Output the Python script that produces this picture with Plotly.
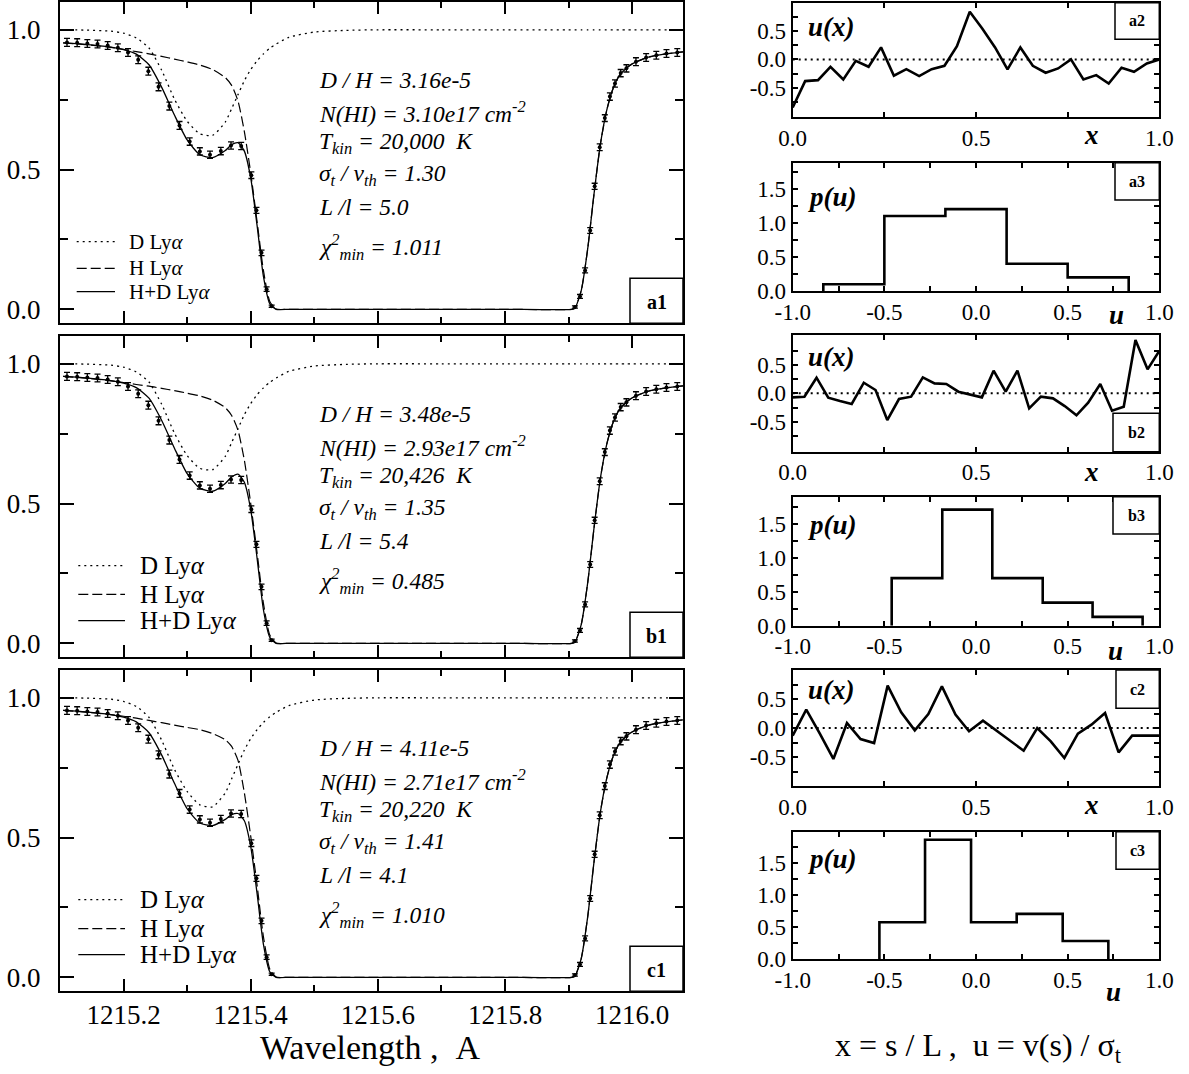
import plotly.graph_objects as go

W, H = 1189, 1074
SERIF = "'Liberation Serif', 'Times New Roman', Times, serif"

# ---------------- observed Ly-alpha profile (same spectrum in every fit) ----------------
wl_obs = [1215.111, 1215.127, 1215.143, 1215.159, 1215.175, 1215.191, 1215.207,
          1215.223, 1215.239, 1215.255, 1215.272, 1215.288, 1215.304, 1215.320,
          1215.336, 1215.353, 1215.369, 1215.385, 1215.401, 1215.409, 1215.417,
          1215.425, 1215.433,
          1215.910, 1215.918, 1215.926, 1215.934, 1215.941, 1215.949, 1215.957,
          1215.965, 1215.973, 1215.982, 1215.991, 1216.006, 1216.022, 1216.038,
          1216.054, 1216.071]
flux_obs = [0.955, 0.954, 0.951, 0.949, 0.944, 0.936, 0.919, 0.893, 0.852, 0.796,
            0.727, 0.658, 0.600, 0.565, 0.553, 0.566, 0.586, 0.584, 0.480, 0.354,
            0.202, 0.072, 0.011,
            0.008, 0.046, 0.139, 0.282, 0.440, 0.580, 0.684, 0.761, 0.808, 0.845,
            0.862, 0.886, 0.901, 0.909, 0.915, 0.919]
err_obs = [0.014, 0.014, 0.014, 0.014, 0.014, 0.014, 0.014, 0.014, 0.014, 0.014,
           0.014, 0.014, 0.013, 0.013, 0.013, 0.013, 0.013, 0.013, 0.012, 0.011,
           0.010, 0.008, 0.004,
           0.004, 0.007, 0.009, 0.010, 0.011, 0.012, 0.012, 0.013, 0.013, 0.013,
           0.013, 0.014, 0.014, 0.014, 0.014, 0.014]

# ---------------- model profiles ----------------
wl_model = [1215.105, 1215.14, 1215.18, 1215.20, 1215.22, 1215.24, 1215.26, 1215.28,
            1215.30, 1215.32, 1215.34, 1215.36, 1215.37, 1215.38, 1215.39, 1215.40,
            1215.41, 1215.42, 1215.43, 1215.44, 1215.46, 1215.50, 1215.55, 1215.60,
            1215.70, 1215.80, 1215.905, 1215.91, 1215.92, 1215.93, 1215.94, 1215.95,
            1215.96, 1215.97, 1215.98, 1215.99, 1216.00, 1216.02, 1216.04, 1216.06,
            1216.08]

d_a1 = [1.000, 0.999, 0.995, 0.988, 0.971, 0.935, 0.855, 0.752, 0.673, 0.628, 0.622,
        0.670, 0.718, 0.768, 0.818, 0.858, 0.889, 0.914, 0.934, 0.949, 0.973, 0.992,
        0.998, 1.000, 1.000, 1.000, 1.000, 1.000, 1.000, 1.000, 1.000, 1.000, 1.000,
        1.000, 1.000, 1.000, 1.000, 1.000, 1.000, 1.000, 1.000]
h_a1 = [0.953, 0.947, 0.937, 0.930, 0.922, 0.914, 0.905, 0.895, 0.885, 0.874, 0.858,
        0.829, 0.801, 0.745, 0.636, 0.488, 0.314, 0.139, 0.028, 0.001, 0.0, 0.0, 0.0,
        0.0, 0.0, 0.0, 0.0, 0.004, 0.068, 0.215, 0.412, 0.590, 0.712, 0.790, 0.837,
        0.861, 0.878, 0.898, 0.909, 0.916, 0.921]
hd_a1 = [0.953, 0.948, 0.938, 0.929, 0.913, 0.875, 0.794, 0.695, 0.606, 0.553, 0.543,
         0.568, 0.589, 0.596, 0.566, 0.470, 0.300, 0.118, 0.020, 0.0, 0.0, 0.0, 0.0,
         0.0, 0.0, 0.0, 0.0, 0.004, 0.068, 0.215, 0.412, 0.590, 0.712, 0.790, 0.837,
         0.861, 0.878, 0.898, 0.909, 0.916, 0.921]

d_b1 = [1.000, 0.999, 0.995, 0.988, 0.971, 0.935, 0.855, 0.752, 0.672, 0.626, 0.621,
        0.669, 0.718, 0.768, 0.818, 0.858, 0.889, 0.914, 0.934, 0.949, 0.973, 0.992,
        0.998, 1.000, 1.000, 1.000, 1.000, 1.000, 1.000, 1.000, 1.000, 1.000, 1.000,
        1.000, 1.000, 1.000, 1.000, 1.000, 1.000, 1.000, 1.000]
h_b1 = [0.955, 0.949, 0.939, 0.933, 0.926, 0.920, 0.912, 0.904, 0.895, 0.885, 0.870,
        0.843, 0.815, 0.762, 0.655, 0.500, 0.325, 0.143, 0.030, 0.001, 0.0, 0.0, 0.0,
        0.0, 0.0, 0.0, 0.0, 0.004, 0.068, 0.215, 0.412, 0.590, 0.712, 0.790, 0.837,
        0.861, 0.878, 0.898, 0.909, 0.916, 0.921]
hd_b1 = [0.955, 0.950, 0.940, 0.931, 0.915, 0.877, 0.797, 0.698, 0.607, 0.555, 0.544,
         0.572, 0.595, 0.605, 0.576, 0.478, 0.305, 0.120, 0.021, 0.0, 0.0, 0.0, 0.0,
         0.0, 0.0, 0.0, 0.0, 0.004, 0.068, 0.215, 0.412, 0.590, 0.712, 0.790, 0.837,
         0.861, 0.878, 0.898, 0.909, 0.916, 0.921]

d_c1 = [1.000, 0.999, 0.995, 0.987, 0.969, 0.930, 0.848, 0.744, 0.665, 0.617, 0.610,
        0.660, 0.710, 0.762, 0.813, 0.854, 0.886, 0.912, 0.932, 0.948, 0.972, 0.992,
        0.998, 1.000, 1.000, 1.000, 1.000, 1.000, 1.000, 1.000, 1.000, 1.000, 1.000,
        1.000, 1.000, 1.000, 1.000, 1.000, 1.000, 1.000, 1.000]
h_c1 = [0.955, 0.949, 0.940, 0.934, 0.927, 0.919, 0.911, 0.902, 0.894, 0.886, 0.872,
        0.850, 0.826, 0.776, 0.660, 0.505, 0.330, 0.145, 0.030, 0.001, 0.0, 0.0, 0.0,
        0.0, 0.0, 0.0, 0.0, 0.004, 0.068, 0.215, 0.412, 0.590, 0.712, 0.790, 0.837,
        0.861, 0.878, 0.898, 0.909, 0.916, 0.921]
hd_c1 = [0.955, 0.950, 0.940, 0.931, 0.914, 0.875, 0.795, 0.694, 0.603, 0.552, 0.543,
         0.565, 0.582, 0.586, 0.560, 0.468, 0.300, 0.118, 0.020, 0.0, 0.0, 0.0, 0.0,
         0.0, 0.0, 0.0, 0.0, 0.004, 0.068, 0.215, 0.412, 0.590, 0.712, 0.790, 0.837,
         0.861, 0.878, 0.898, 0.909, 0.916, 0.921]

params_a1 = ["D / H = 3.16e-5", "N(HI) = 3.10e17 cm<sup>-2</sup>",
             "T<sub>kin</sub> = 20,000\u00a0\u00a0K", "\u03c3<sub>t</sub> / v<sub>th</sub> = 1.30",
             "L /l = 5.0", "\u03c7<sup>2</sup><sub>min</sub> = 1.011"]
params_b1 = ["D / H = 3.48e-5", "N(HI) = 2.93e17 cm<sup>-2</sup>",
             "T<sub>kin</sub> = 20,426\u00a0\u00a0K", "\u03c3<sub>t</sub> / v<sub>th</sub> = 1.35",
             "L /l = 5.4", "\u03c7<sup>2</sup><sub>min</sub> = 0.485"]
params_c1 = ["D / H = 4.11e-5", "N(HI) = 2.71e17 cm<sup>-2</sup>",
             "T<sub>kin</sub> = 20,220\u00a0\u00a0K", "\u03c3<sub>t</sub> / v<sub>th</sub> = 1.41",
             "L /l = 4.1", "\u03c7<sup>2</sup><sub>min</sub> = 1.010"]

legend_names = ["D Ly<i>\u03b1</i>", "H Ly<i>\u03b1</i>", "H+D Ly<i>\u03b1</i>"]

# ---------------- velocity field realisations u(x) ----------------
x_a2 = [0.000, 0.034, 0.069, 0.103, 0.138, 0.172, 0.207, 0.241, 0.276, 0.310,
        0.345, 0.379, 0.414, 0.448, 0.483, 0.517, 0.552, 0.586, 0.621, 0.655,
        0.690, 0.724, 0.759, 0.793, 0.828, 0.862, 0.897, 0.931, 0.966, 1.000]
u_a2 = [-0.847, -0.382, -0.365, -0.129, -0.353, -0.024, -0.129, 0.212, -0.288, -0.171,
        -0.294, -0.171, -0.112, 0.235, 0.841, 0.547, 0.212, -0.176, 0.212, -0.112,
        -0.235, -0.159, 0.000, -0.353, -0.276, -0.424, -0.147, -0.218, -0.071, 0.000]

x_b2 = [0.000, 0.032, 0.065, 0.097, 0.129, 0.161, 0.194, 0.226, 0.258, 0.290,
        0.323, 0.355, 0.387, 0.419, 0.452, 0.484, 0.516, 0.548, 0.581, 0.613,
        0.645, 0.677, 0.710, 0.742, 0.774, 0.806, 0.839, 0.871, 0.903, 0.935,
        0.968, 1.000]
u_b2 = [-0.071, -0.059, 0.276, -0.076, -0.135, -0.188, 0.188, 0.059, -0.471, -0.100,
        -0.059, 0.282, 0.176, 0.165, 0.029, -0.018, -0.071, 0.400, 0.029, 0.400,
        -0.265, -0.059, -0.088, -0.224, -0.388, -0.165, 0.165, -0.306, -0.235, 0.941,
        0.424, 0.747]

x_c2 = [0.000, 0.037, 0.074, 0.111, 0.148, 0.185, 0.222, 0.259, 0.296, 0.333,
        0.370, 0.407, 0.444, 0.481, 0.519, 0.556, 0.593, 0.630, 0.667, 0.704,
        0.741, 0.778, 0.815, 0.852, 0.889, 0.926, 0.963, 1.000]
u_c2 = [-0.132, 0.316, -0.098, -0.534, 0.086, -0.190, -0.259, 0.730, 0.270, -0.040,
        0.241, 0.718, 0.230, -0.057, 0.126, -0.046, -0.230, -0.391, 0.000, -0.230,
        -0.517, -0.098, 0.057, 0.259, -0.420, -0.132, -0.132, -0.132]

# ---------------- velocity distributions p(u) ----------------
edges_a3 = [-0.833, -0.500, -0.167, 0.167, 0.500, 0.833]
p_a3 = [0.10, 1.10, 1.20, 0.40, 0.20]
edges_b3 = [-0.460, -0.184, 0.089, 0.364, 0.636, 0.909]
p_b3 = [0.70, 1.71, 0.70, 0.34, 0.13]
edges_c3 = [-0.527, -0.278, -0.027, 0.222, 0.473, 0.722]
p_c3 = [0.575, 1.855, 0.575, 0.705, 0.285]

# ---------------- layout geometry (pixels) ----------------
LEFT_X = (60, 683)
RIGHT_X = (792.7, 1159.3)
PX_PER_UNIT = 279.5


def fx(p):
    return p / W


def fy(p):
    return 1 - p / H


fig = go.Figure()
annotations = []
shapes = []
layout = {}

left_panels = [
    dict(tag="a1", idx="", y0=309.3, d=d_a1, h=h_a1, hd=hd_a1, params=params_a1,
         leg_size=21, leg_rows=[-67.6, -41.0, -17.6], leg_line=(76.7, 115.0), leg_text=127.0),
    dict(tag="b1", idx="2", y0=643.3, d=d_b1, h=h_b1, hd=hd_b1, params=params_b1,
         leg_size=25, leg_rows=[-77.6, -49.0, -22.6], leg_line=(78.3, 125.0), leg_text=138.0),
    dict(tag="c1", idx="3", y0=977.3, d=d_c1, h=h_c1, hd=hd_c1, params=params_c1,
         leg_size=25, leg_rows=[-77.6, -48.6, -22.6], leg_line=(78.3, 125.0), leg_text=138.0),
]

tickfont_left = dict(family=SERIF, size=27, color="black")
param_dy = [0.0, 31.7, 63.3, 95.0, 126.7, 166.7]
styles = [("2px,4px", 1.3), ("10px,4px", 1.2), ("solid", 1.3)]

for k, p in enumerate(left_panels):
    xa = "x" + p["idx"]
    ya = "y" + p["idx"]
    y0 = p["y0"]
    top_px = y0 - 1.1 * PX_PER_UNIT
    bot_px = y0 + 0.05 * PX_PER_UNIT
    for vals, (dash, lw) in zip([p["d"], p["h"], p["hd"]], styles):
        fig.add_trace(go.Scatter(x=wl_model, y=vals, mode="lines", xaxis=xa, yaxis=ya,
                                 line=dict(color="black", width=lw, dash=dash,
                                           shape="spline", smoothing=0.6),
                                 showlegend=False, hoverinfo="skip"))
    fig.add_trace(go.Scatter(x=wl_obs, y=flux_obs, mode="markers", xaxis=xa, yaxis=ya,
                             marker=dict(color="black", size=4),
                             error_y=dict(type="data", array=err_obs, color="black",
                                          thickness=1.3, width=3),
                             showlegend=False, hoverinfo="skip"))

    layout["xaxis" + p["idx"]] = dict(
        domain=[fx(LEFT_X[0]), fx(LEFT_X[1])], anchor=ya, range=[1215.1, 1216.08],
        tick0=1215.2, dtick=0.2, tickformat=".1f", ticks="inside", ticklen=12,
        tickwidth=1.5, tickcolor="black", showline=True, linecolor="black", linewidth=2,
        mirror="ticks", showgrid=False, zeroline=False, showticklabels=(k == 2),
        tickfont=tickfont_left, ticklabelstandoff=-2, automargin=False,
        minor=dict(dtick=0.1, ticklen=6, tickwidth=1.5, tickcolor="black", ticks="inside"))
    layout["yaxis" + p["idx"]] = dict(
        domain=[fy(bot_px), fy(top_px)], anchor=xa, range=[-0.05, 1.1],
        tick0=0, dtick=0.5, tickformat=".1f", ticks="inside", ticklen=14, tickwidth=1.5,
        tickcolor="black", showline=True, linecolor="black", linewidth=2, mirror="ticks",
        showgrid=False, zeroline=False, tickfont=tickfont_left, ticklabelstandoff=12,
        automargin=False,
        minor=dict(dtick=0.25, ticklen=8, tickwidth=1.5, tickcolor="black", ticks="inside"))

    # fit parameters
    py_text0 = y0 - 229.3
    for line, dy in zip(p["params"], param_dy):
        annotations.append(dict(x=fx(316.5), y=fy(py_text0 + dy), xref="paper", yref="paper",
                                text="<i>" + line + "</i>", showarrow=False,
                                xanchor="left", yanchor="middle",
                                font=dict(family=SERIF, size=23.5, color="black")))

    # line-style key
    for name, (dash, lw), dy in zip(legend_names, styles, p["leg_rows"]):
        shapes.append(dict(type="line", xref="paper", yref="paper",
                           x0=fx(p["leg_line"][0]), x1=fx(p["leg_line"][1]),
                           y0=fy(y0 + dy), y1=fy(y0 + dy),
                           line=dict(color="black", width=lw, dash=dash)))
        annotations.append(dict(x=fx(p["leg_text"]), y=fy(y0 + dy), xref="paper", yref="paper",
                                text=name, showarrow=False, xanchor="left", yanchor="middle",
                                font=dict(family=SERIF, size=p["leg_size"], color="black")))

    # panel tag box
    shapes.append(dict(type="rect", xref="paper", yref="paper",
                       x0=fx(630), x1=fx(LEFT_X[1]), y0=fy(bot_px), y1=fy(bot_px - 45),
                       line=dict(color="black", width=1.5), fillcolor="white", layer="above"))
    annotations.append(dict(x=fx(656.5), y=fy(bot_px - 21), xref="paper", yref="paper",
                            text="<b>" + p["tag"] + "</b>", showarrow=False,
                            xanchor="center", yanchor="middle",
                            font=dict(family=SERIF, size=20, color="black")))

# ---------------- right-hand panels ----------------
tickfont_right = dict(family=SERIF, size=23, color="black")

right_panels = [
    dict(kind="u", tag="a2", idx="4", top=2.7, bot=117.3, rng=[-1.02, 1.0], x=x_a2, y=u_a2,
         box="top", box_left=1115, box_h=36.6, lab_dy=24.0, ax_lab=(1091.7, 135.0)),
    dict(kind="p", tag="a3", idx="5", top=162.7, bot=291.0, rng=[0, 1.88], edges=edges_a3,
         p=p_a3, box="top", box_left=1115, box_h=37.3, lab_dy=34.0, ax_lab=(1116.7, 315.0)),
    dict(kind="u", tag="b2", idx="6", top=335.0, bot=451.7, rng=[-1.03, 1.03], x=x_b2, y=u_b2,
         box="bottom", box_left=1113, box_h=38.4, lab_dy=21.7, ax_lab=(1091.7, 471.7)),
    dict(kind="p", tag="b3", idx="7", top=496.7, bot=625.7, rng=[0, 1.9], edges=edges_b3,
         p=p_b3, box="top", box_left=1113, box_h=37.3, lab_dy=28.3, ax_lab=(1115.0, 651.0)),
    dict(kind="u", tag="c2", idx="8", top=670.0, bot=786.0, rng=[-1.0, 1.0], x=x_c2, y=u_c2,
         box="top", box_left=1116, box_h=38.3, lab_dy=20.0, ax_lab=(1091.7, 805.0)),
    dict(kind="p", tag="c3", idx="9", top=831.7, bot=959.3, rng=[0, 1.98], edges=edges_c3,
         p=p_c3, box="top", box_left=1116, box_h=37.6, lab_dy=27.6, ax_lab=(1113.0, 992.0)),
]

for r in right_panels:
    xa = "x" + r["idx"]
    ya = "y" + r["idx"]
    axis_common = dict(ticks="inside", ticklen=5, tickwidth=1.5, tickcolor="black",
                       showline=True, linecolor="black", linewidth=2, mirror="ticks",
                       showgrid=False, zeroline=False, tickfont=tickfont_right,
                       automargin=False)
    if r["kind"] == "u":
        fig.add_trace(go.Scatter(x=r["x"], y=r["y"], mode="lines", xaxis=xa, yaxis=ya,
                                 line=dict(color="black", width=2.6),
                                 showlegend=False, hoverinfo="skip"))
        shapes.append(dict(type="line", xref=xa + " domain", yref=ya, x0=0, x1=1, y0=0, y1=0,
                           line=dict(color="black", width=2, dash="2px,4px")))
        xticks = dict(range=[0, 1], tickvals=[0, 0.25, 0.5, 0.75, 1.0],
                      ticktext=["0.0", "", "0.5", "", "1.0"])
        yticks = dict(range=r["rng"], tickvals=[-0.75, -0.5, -0.25, 0, 0.25, 0.5, 0.75],
                      ticktext=["", "-0.5", "", "0.0", "", "0.5", ""])
        lab, axl = "<b><i>u(x)</i></b>", "<b><i>x</i></b>"
    else:
        edges, heights = r["edges"], r["p"]
        sx = [edges[0]] + edges[:-1] + [edges[-1], edges[-1]]
        sy = [0] + heights + [heights[-1], 0]
        fig.add_trace(go.Scatter(x=sx, y=sy, mode="lines", xaxis=xa, yaxis=ya,
                                 line=dict(color="black", width=2.6, shape="hv"),
                                 showlegend=False, hoverinfo="skip"))
        xticks = dict(range=[-1, 1], tickvals=[-1, -0.75, -0.5, -0.25, 0, 0.25, 0.5, 0.75, 1],
                      ticktext=["-1.0", "", "-0.5", "", "0.0", "", "0.5", "", "1.0"])
        yticks = dict(range=r["rng"], tickvals=[0, 0.25, 0.5, 0.75, 1.0, 1.25, 1.5, 1.75],
                      ticktext=["0.0", "", "0.5", "", "1.0", "", "1.5", ""])
        lab, axl = "<b><i>p(u)</i></b>", "<b><i>u</i></b>"

    layout["xaxis" + r["idx"]] = dict(domain=[fx(RIGHT_X[0]), fx(RIGHT_X[1])], anchor=ya,
                                      ticklabelstandoff=-1, **xticks, **axis_common)
    layout["yaxis" + r["idx"]] = dict(domain=[fy(r["bot"]), fy(r["top"])], anchor=xa,
                                      ticklabelstandoff=0, **yticks, **axis_common)

    if r["box"] == "top":
        b0, b1 = r["top"], r["top"] + r["box_h"]
    else:
        b0, b1 = r["bot"] - r["box_h"], r["bot"]
    shapes.append(dict(type="rect", xref="paper", yref="paper",
                       x0=fx(r["box_left"]), x1=fx(RIGHT_X[1]), y0=fy(b1), y1=fy(b0),
                       line=dict(color="black", width=1.5), fillcolor="white", layer="above"))
    annotations.append(dict(x=fx((r["box_left"] + RIGHT_X[1]) / 2), y=fy((b0 + b1) / 2),
                            xref="paper", yref="paper", text="<b>" + r["tag"] + "</b>",
                            showarrow=False, xanchor="center", yanchor="middle",
                            font=dict(family=SERIF, size=16, color="black")))
    annotations.append(dict(x=fx(806.0), y=fy(r["top"] + r["lab_dy"]), xref="paper",
                            yref="paper", text=lab, showarrow=False, xanchor="left",
                            yanchor="middle", font=dict(family=SERIF, size=27, color="black")))
    annotations.append(dict(x=fx(r["ax_lab"][0]), y=fy(r["ax_lab"][1]), xref="paper",
                            yref="paper", text=axl, showarrow=False, xanchor="center",
                            yanchor="middle", font=dict(family=SERIF, size=27, color="black")))

# ---------------- bottom captions ----------------
annotations.append(dict(x=fx(370), y=fy(1047), xref="paper", yref="paper",
                        text="Wavelength ,\u00a0\u00a0A", showarrow=False,
                        xanchor="center", yanchor="middle",
                        font=dict(family=SERIF, size=34, color="black")))
annotations.append(dict(x=fx(978), y=fy(1047), xref="paper", yref="paper",
                        text="x = s / L ,\u00a0\u00a0u = v(s) / \u03c3<sub>t</sub>",
                        showarrow=False, xanchor="center", yanchor="middle",
                        font=dict(family=SERIF, size=32, color="black")))

fig.update_layout(
    width=W, height=H, template="none",
    margin=dict(l=0, r=0, t=0, b=0, pad=0),
    paper_bgcolor="white", plot_bgcolor="white",
    showlegend=False,
    annotations=annotations, shapes=shapes,
    **layout,
)

fig.write_html("out.html", config={"displayModeBar": False})
